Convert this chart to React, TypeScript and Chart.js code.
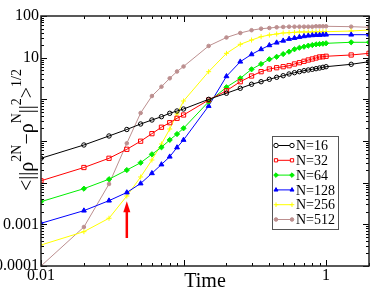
import React, { useEffect, useRef } from 'react';
import { Chart, registerables } from 'chart.js';

Chart.register(...registerables);

// ---- data ----
const times = [0.01, 0.02, 0.03, 0.04, 0.05, 0.06, 0.07, 0.08, 0.09, 0.1,
  0.15, 0.2, 0.25, 0.3, 0.35, 0.4, 0.45, 0.5, 0.55, 0.6, 0.65, 0.7, 0.75, 0.8,
  0.85, 0.9, 0.95, 1.0, 1.5, 2.0];

const n16 = [0.0385, 0.0802, 0.132, 0.189, 0.256, 0.319, 0.383, 0.462, 0.525, 0.586,
  1.00, 1.40, 1.84, 2.30, 2.65, 3.03, 3.38, 3.69, 4.06, 4.36, 4.61, 4.87, 5.06, 5.26,
  5.44, 5.65, 5.87, 6.07, 6.93, 8.00];
const n32 = [0.0111, 0.0231, 0.0385, 0.0632, 0.0989, 0.150, 0.214, 0.275, 0.351, 0.421,
  0.964, 1.61, 2.65, 3.63, 4.61, 5.35, 5.74, 6.07, 6.41, 7.05, 7.57, 8.18, 8.79, 9.29,
  9.82, 10.4, 10.5, 10.8, 11.6, 12.7];
const n64 = [0.0035, 0.00718, 0.0121, 0.0201, 0.0301, 0.048, 0.0706, 0.106, 0.147, 0.202,
  0.877, 1.95, 3.20, 5.26, 7.05, 9.14, 10.5, 12.2, 13.9, 15.9, 17.3, 18.3, 19.4, 20.1,
  20.9, 21.3, 21.6, 22.1, 23.4, 23.4];
const n128 = [0.00106, 0.00213, 0.0037, 0.00581, 0.00955, 0.0168, 0.0273, 0.042, 0.0698, 0.106,
  0.692, 3.57, 8.00, 12.0, 15.9, 19.8, 22.9, 25.5, 28.1, 29.6, 31.3, 32.6, 33.7, 34.4,
  35.0, 35.0, 35.6, 35.6, 35.6, 35.6];
const n256 = [0.000319, 0.000667, 0.0014, 0.00479, 0.0137, 0.035, 0.0847, 0.194, 0.445, 0.912,
  4.61, 12.7, 20.9, 26.5, 31.8, 35.0, 37.0, 39.1, 39.7, 40.6, 41.3, 41.3, 41.3, 41.3,
  41.6, 41.6, 41.6, 42.0, 43.6, 46.1];
const n512 = [0.0001, 0.000863, 0.00929, 0.0881, 0.470, 1.20, 2.01, 3.20, 4.66, 6.14,
  19.1, 30.5, 39.1, 45.6, 49.6, 51.5, 53.6, 54.5, 55.4, 55.4, 55.4, 55.4, 55.4, 55.4,
  56.6, 56.6, 56.6, 56.6, 55.4, 53.6];

const seriesLabels = ['N=16', 'N=32', 'N=64', 'N=128', 'N=256', 'N=512'];
const seriesData = [n16, n32, n64, n128, n256, n512];

const xTickLabels = [0.01, 1];
const yTickLabels = [100, 10, 0.001, 0.0001];
const xRange = [0.01, 2];
const yRange = [0.0001, 100];

// arrow annotation (time, tail value, tip value)
const arrowTime = 0.04;
const arrowTail = 0.00047;
const arrowTip = 0.0036;

// ---- styles ----
const FONT = '"Liberation Serif", "Times New Roman", serif';
const styles = [
  { color: '#000000', point: 'circle', filled: false, r: 2.2 },
  { color: '#ff0000', point: 'rect', filled: false, r: 3 },
  { color: '#00ee00', point: 'rectRot', filled: true, r: 2.6 },
  { color: '#0000ff', point: 'triangle', filled: true, r: 2.8 },
  { color: '#ffff00', point: 'cross', filled: false, r: 2.5 },
  { color: '#bc8f8f', point: 'circle', filled: true, r: 1.8 },
];

function drawMarker(ctx: CanvasRenderingContext2D, st: any, x: number, y: number) {
  const r = st.r;
  ctx.save();
  ctx.strokeStyle = st.color;
  ctx.fillStyle = st.filled ? st.color : '#ffffff';
  ctx.lineWidth = 1;
  ctx.beginPath();
  if (st.point === 'circle') {
    ctx.arc(x, y, r, 0, Math.PI * 2);
  } else if (st.point === 'rect') {
    const s = r * Math.SQRT1_2;
    ctx.rect(x - s, y - s, 2 * s, 2 * s);
  } else if (st.point === 'rectRot') {
    ctx.moveTo(x, y - r); ctx.lineTo(x + r, y); ctx.lineTo(x, y + r); ctx.lineTo(x - r, y); ctx.closePath();
  } else if (st.point === 'triangle') {
    ctx.moveTo(x, y - r); ctx.lineTo(x + r * 0.87, y + r * 0.5); ctx.lineTo(x - r * 0.87, y + r * 0.5); ctx.closePath();
  } else if (st.point === 'cross') {
    ctx.moveTo(x - r, y); ctx.lineTo(x + r, y); ctx.moveTo(x, y - r); ctx.lineTo(x, y + r);
  }
  if (st.point !== 'cross') ctx.fill();
  ctx.stroke();
  ctx.restore();
}

function logTicks(min: number, max: number) {
  const out: { v: number; major: boolean }[] = [];
  for (let e = Math.floor(Math.log10(min)); e <= Math.ceil(Math.log10(max)); e++) {
    for (let m = 1; m <= 9; m++) {
      const v = m * Math.pow(10, e);
      if (v >= min * 0.999 && v <= max * 1.001) out.push({ v, major: m === 1 });
    }
  }
  return out;
}

const near = (a: number, b: number) => Math.abs(Math.log10(a) - Math.log10(b)) < 1e-6;

const decorPlugin = {
  id: 'decor',
  afterDatasetsDraw(chart: any) {
    const { ctx, chartArea } = chart;
    const { left, right, top, bottom } = chartArea;
    const xs = chart.scales.x, ys = chart.scales.y;

    // arrow
    const ax = xs.getPixelForValue(arrowTime);
    const ay0 = ys.getPixelForValue(arrowTail);
    const ay1 = ys.getPixelForValue(arrowTip);
    ctx.save();
    ctx.strokeStyle = '#ff0000';
    ctx.fillStyle = '#ff0000';
    ctx.lineWidth = 2.5;
    ctx.beginPath();
    ctx.moveTo(ax, ay0);
    ctx.lineTo(ax, ay1 + 8);
    ctx.stroke();
    ctx.beginPath();
    ctx.moveTo(ax, ay1);
    ctx.lineTo(ax + 3.5, ay1 + 11);
    ctx.lineTo(ax - 3.5, ay1 + 11);
    ctx.closePath();
    ctx.fill();
    ctx.restore();

    // ticks (inward, all four sides)
    ctx.save();
    ctx.strokeStyle = '#000';
    ctx.lineWidth = 1;
    ctx.beginPath();
    logTicks(xRange[0], xRange[1]).forEach(t => {
      const px = Math.round(xs.getPixelForValue(t.v)) + 0.5;
      const len = t.major ? 6 : 3;
      ctx.moveTo(px, bottom); ctx.lineTo(px, bottom - len);
      ctx.moveTo(px, top); ctx.lineTo(px, top + len);
    });
    logTicks(yRange[0], yRange[1]).forEach(t => {
      const py = Math.round(ys.getPixelForValue(t.v)) + 0.5;
      const len = t.major ? 6 : 3;
      ctx.moveTo(left, py); ctx.lineTo(left + len, py);
      ctx.moveTo(right, py); ctx.lineTo(right - len, py);
    });
    ctx.stroke();
    // frame
    ctx.lineWidth = 1.5;
    ctx.strokeStyle = '#222';
    ctx.strokeRect(left, top, right - left, bottom - top);
    ctx.restore();

    // legend
    ctx.save();
    const lx = 272, ly = 136, lw = 66, lh = 93;
    ctx.fillStyle = '#fff';
    ctx.fillRect(lx, ly, lw, lh);
    ctx.strokeStyle = '#555';
    ctx.lineWidth = 1;
    ctx.strokeRect(lx + 0.5, ly + 0.5, lw, lh);
    ctx.font = `14px ${FONT}`;
    ctx.textBaseline = 'middle';
    seriesLabels.forEach((lab, i) => {
      const st = styles[i];
      const cy = ly + 9.5 + i * 14.8;
      ctx.strokeStyle = st.color;
      ctx.lineWidth = 1;
      ctx.beginPath();
      ctx.moveTo(lx + 4, cy); ctx.lineTo(lx + 20, cy);
      ctx.stroke();
      drawMarker(ctx, { ...st, r: Math.min(st.r, 2.3) }, lx + 4, cy);
      drawMarker(ctx, { ...st, r: Math.min(st.r, 2.3) }, lx + 20, cy);
      ctx.fillStyle = '#000';
      ctx.fillText(lab, lx + 24, cy + 1);
    });
    ctx.restore();

    // axis titles
    ctx.save();
    ctx.fillStyle = '#000';
    ctx.textBaseline = 'alphabetic';
    ctx.font = `20px ${FONT}`;
    ctx.textAlign = 'center';
    ctx.fillText('Time', (left + right) / 2, 287);
    ctx.textAlign = 'left';
    ctx.translate(33, 191);
    ctx.rotate(-Math.PI / 2);
    const parts = [
      { t: '<||ρ', sup: false }, { t: '2N', sup: true }, { t: '−ρ', sup: false },
      { t: 'N', sup: true }, { t: '||', sup: false }, { t: '2', sup: true },
      { t: '>', sup: false }, { t: '1/2', sup: true },
    ];
    let x = 0;
    parts.forEach(p => {
      ctx.font = p.sup ? `14px ${FONT}` : `20px ${FONT}`;
      ctx.fillText(p.t, x, p.sup ? -12 : 0);
      x += ctx.measureText(p.t).width;
    });
    ctx.restore();
  },
};

export default function App() {
  const ref = useRef<HTMLCanvasElement>(null);
  useEffect(() => {
    if (!ref.current) return;
    const chart = new Chart(ref.current, {
      type: 'line',
      data: {
        datasets: seriesData.map((d, i) => ({
          label: seriesLabels[i],
          data: d.map((v, j) => ({ x: times[j], y: v })),
          borderColor: styles[i].color,
          backgroundColor: styles[i].color,
          borderWidth: 1,
          pointStyle: styles[i].point as any,
          pointRadius: styles[i].r,
          pointBorderWidth: 1,
          pointBorderColor: styles[i].color,
          pointBackgroundColor: styles[i].filled ? styles[i].color : 'rgba(255,255,255,0)',
          tension: 0,
          fill: false,
        })),
      },
      options: {
        animation: false,
        responsive: true,
        maintainAspectRatio: false,
        layout: { padding: { top: 16, right: 2, left: 0, bottom: 0 } },
        plugins: { legend: { display: false }, tooltip: { enabled: false } },
        scales: {
          x: {
            type: 'logarithmic',
            min: xRange[0],
            max: xRange[1],
            grid: { display: false, drawTicks: false },
            border: { display: false },
            ticks: {
              autoSkip: false,
              maxRotation: 0,
              padding: 0,
              color: '#000',
              font: { family: FONT, size: 16 },
              callback: (v: any) => {
                const n = Number(v);
                const hit = xTickLabels.find(t => near(t, n));
                return hit !== undefined ? String(hit) : '';
              },
            },
            afterFit: (s: any) => { s.height = 23; },
          },
          y: {
            type: 'logarithmic',
            min: yRange[0],
            max: yRange[1],
            grid: { display: false, drawTicks: false },
            border: { display: false },
            ticks: {
              autoSkip: false,
              padding: 2,
              color: '#000',
              font: { family: FONT, size: 16 },
              callback: (v: any) => {
                const n = Number(v);
                const hit = yTickLabels.find(t => near(t, n));
                return hit !== undefined ? String(hit) : '';
              },
            },
            afterFit: (s: any) => { s.width = 41; },
          },
        },
      },
      plugins: [decorPlugin],
    });
    return () => chart.destroy();
  }, []);
  return (
    <div style={{ position: 'fixed', left: 0, top: 0, width: 374, height: 289, background: '#fff' }}>
      <canvas ref={ref} />
    </div>
  );
}
